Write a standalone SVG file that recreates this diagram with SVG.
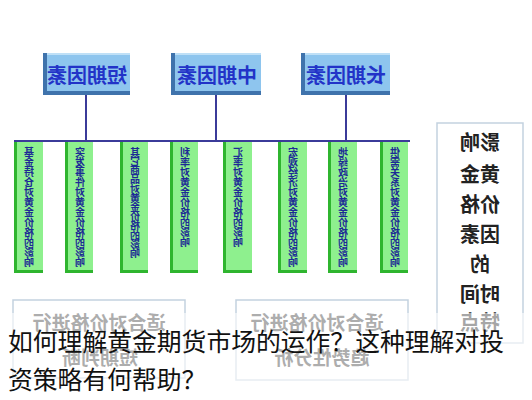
<svg xmlns="http://www.w3.org/2000/svg" width="532" height="400" viewBox="0 0 532 400">
<defs>
<style>
.m{transform-box:fill-box;transform-origin:center;transform:scaleX(-1)}
.tb{fill:#8ec5ee}
.tbl{fill:#3f73ac}
.tbt{fill:#bfe0f7}
.tt{font-family:"Noto Sans CJK SC",sans-serif;font-size:20px;font-weight:bold;fill:#2233c8;text-anchor:middle}
.cb{fill:#8ef08e}
.cd{fill:#2fb52f}
.ct{font-family:"Noto Sans CJK SC",sans-serif;font-size:10px;font-weight:bold;fill:#1c2a96;writing-mode:vertical-rl;text-orientation:upright}
.conn{stroke:#3b3b99;stroke-width:2;fill:none}
.box{fill:#fff;stroke:#c3d2df;stroke-width:1.5}
.rt{font-family:"Noto Sans CJK SC",sans-serif;font-size:20px;font-weight:bold;fill:#222;text-anchor:middle}
.bt{font-family:"Noto Sans CJK SC",sans-serif;font-size:19px;font-weight:bold;fill:#333;text-anchor:middle}
.cap{font-family:"Noto Sans CJK SC",sans-serif;font-size:24.8px;fill:#111}
</style>
</defs>
<rect width="532" height="400" fill="#fff"/>
<g id="connectors">
<line class="conn" x1="86" y1="95" x2="86" y2="141"/>
<line class="conn" x1="216" y1="95" x2="216" y2="141"/>
<line class="conn" x1="346" y1="95" x2="346" y2="141"/>
<line class="conn" x1="14" y1="141" x2="410" y2="141"/>
</g>
<g id="short-term">
<rect class="tb" x="43" y="53" width="87" height="42"/>
<rect class="tbt" x="43" y="53" width="87" height="2"/>
<rect class="tbl" x="43" y="53" width="4" height="42"/>
<rect class="tbl" x="43" y="91" width="87" height="4"/>
<text class="tt m" x="87" y="83">短期因素</text>
</g>
<g id="mid-term">
<rect class="tb" x="171" y="53" width="90" height="42"/>
<rect class="tbt" x="171" y="53" width="90" height="2"/>
<rect class="tbl" x="171" y="53" width="4" height="42"/>
<rect class="tbl" x="171" y="91" width="90" height="4"/>
<text class="tt m" x="217" y="83">中期因素</text>
</g>
<g id="long-term">
<rect class="tb" x="301" y="53" width="89" height="42"/>
<rect class="tbt" x="301" y="53" width="89" height="2"/>
<rect class="tbl" x="301" y="53" width="4" height="42"/>
<rect class="tbl" x="301" y="91" width="89" height="4"/>
<text class="tt m" x="346" y="83">长期因素</text>
</g>
<g id="col1"><rect class="cb" x="14" y="142" width="29" height="131"/><rect class="cd" x="14" y="142" width="3" height="131"/><rect class="cd" x="14" y="270" width="29" height="3"/><text class="ct m" x="29" y="147">基金持仓对黄金价格的影响</text></g>
<g id="col2"><rect class="cb" x="65" y="142" width="28" height="131"/><rect class="cd" x="65" y="142" width="3" height="131"/><rect class="cd" x="65" y="270" width="28" height="3"/><text class="ct m" x="80" y="147">突发事件对黄金价格的影响</text></g>
<g id="col3"><rect class="cb" x="120" y="142" width="28" height="131"/><rect class="cd" x="120" y="142" width="3" height="131"/><rect class="cd" x="120" y="270" width="28" height="3"/><text class="ct m" x="135" y="147" style="letter-spacing:-0.8px">其它商品对黄金价格的影响</text></g>
<g id="col4"><rect class="cb" x="170" y="142" width="28" height="131"/><rect class="cd" x="170" y="142" width="3" height="131"/><rect class="cd" x="170" y="270" width="28" height="3"/><text class="ct m" x="185" y="147">利率对黄金价格的影响</text></g>
<g id="col5"><rect class="cb" x="223" y="142" width="29" height="131"/><rect class="cd" x="223" y="142" width="3" height="131"/><rect class="cd" x="223" y="270" width="29" height="3"/><text class="ct m" x="238" y="147">汇率对黄金价格的影响</text></g>
<g id="col6"><rect class="cb" x="278" y="142" width="29" height="131"/><rect class="cd" x="278" y="142" width="3" height="131"/><rect class="cd" x="278" y="270" width="29" height="3"/><text class="ct m" x="293" y="147">宏观经济对黄金价格的影响</text></g>
<g id="col7"><rect class="cb" x="328" y="142" width="29" height="131"/><rect class="cd" x="328" y="142" width="3" height="131"/><rect class="cd" x="328" y="270" width="29" height="3"/><text class="ct m" x="343" y="147">地缘政治对黄金价格的影响</text></g>
<g id="col8"><rect class="cb" x="380" y="142" width="28" height="131"/><rect class="cd" x="380" y="142" width="3" height="131"/><rect class="cd" x="380" y="270" width="28" height="3"/><text class="ct m" x="395" y="147">供需关系对黄金价格的影响</text></g>
<g id="time-box">
<rect class="box" x="437" y="123" width="86" height="220"/>
<text class="rt m" x="480" y="150">影响</text>
<text class="rt m" x="480" y="182">黄金</text>
<text class="rt m" x="480" y="212">价格</text>
<text class="rt m" x="480" y="242">因素</text>
<text class="rt m" x="480" y="272">的</text>
<text class="rt m" x="480" y="302">时间</text>
<text class="rt m" x="480" y="330">特点</text>
</g>
<g id="short-judge">
<rect class="box" x="13" y="300" width="172" height="78"/>
<text class="bt m" x="99" y="330">适合对价格进行</text>
<text class="bt m" x="100" y="365">短期判断</text>
</g>
<g id="trend-analysis">
<rect class="box" x="236" y="300" width="172" height="80"/>
<text class="bt m" x="317" y="330">适合对价格进行</text>
<text class="bt m" x="322" y="365">趋势性分析</text>
</g>
<rect x="0" y="313" width="532" height="87" fill="#fff" fill-opacity="0.6"/>
<g id="caption">
<text class="cap" x="8" y="351">如何理解黄金期货市场的运作？这种理解对投</text>
<text class="cap" x="8" y="389">资策略有何帮助？</text>
</g>
</svg>
